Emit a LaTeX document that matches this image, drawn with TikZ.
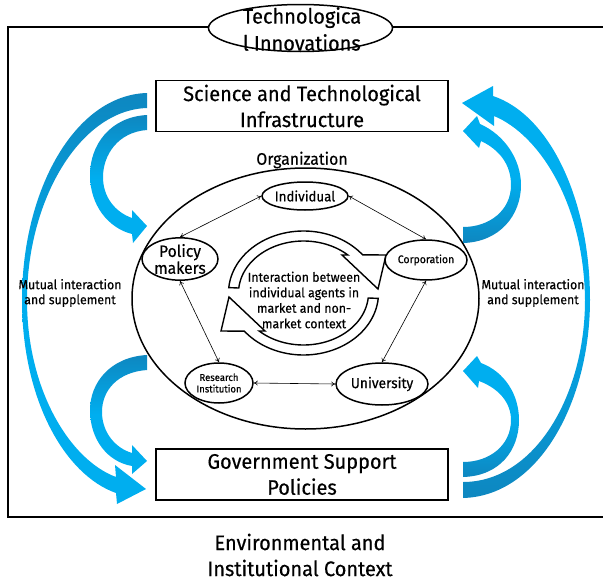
\documentclass[tikz,border=0pt]{standalone}
\usepackage{fontspec}
\setmainfont{Fira Sans}[FakeStretch=0.95,FakeBold=0.4]
\usetikzlibrary{shapes.geometric,arrows.meta}
\definecolor{blight}{RGB}{0,174,239}
\definecolor{bdark}{RGB}{14,135,192}
\newcommand{\fs}[2]{\fontsize{#1}{#2}\selectfont}

\begin{document}
\begin{tikzpicture}[x=1pt,y=-1pt,
  agent/.style={ellipse,draw,line width=1.5pt,inner sep=0pt,fill=white,align=center},
  box/.style={draw,line width=1.5pt,minimum width=292pt,minimum height=51pt,align=center,inner sep=0pt,font=\fs{21}{26}},
  link/.style={<->,>={To[length=4pt,width=5pt]},line width=0.6pt},
  flowdown/.style={top color=bdark,bottom color=blight,middle color=blight},
  flowup/.style={top color=blight,bottom color=bdark,middle color=blight},
  cyc/.style={draw,fill=white,line width=1.4pt,line join=miter},
]
\useasboundingbox (0,0) rectangle (603,581);

% environment frame (open on the right)
\draw[line width=1.5pt] (604,27) -- (8,27) -- (8,517) -- (604,517);

% top label
\node[ellipse,draw,line width=1.5pt,fill=white,minimum width=184pt,minimum height=47pt,inner sep=0pt] (tech) at (300.5,28) {};
\node[align=left,inner sep=0pt,font=\fs{21}{27}] (techtxt) at (302,29) {Technologica\\l Innovations};

% infrastructure and policy boxes
\node[box] (sci) at (302,106) {Science and Technological\\Infrastructure};
\node[box] (gov) at (302,474.5) {Government Support\\Policies};

% organization
\node[font=\fs{16.7}{18}] (orglbl) at (302,160) {Organization};
\node[ellipse,draw,line width=1.5pt,minimum width=347pt,minimum height=261pt,inner sep=0pt] (org) at (305.5,298.5) {};

% circular interaction arrows
\draw[cyc] plot[domain=185:322,samples=50] ({303.5+75*cos(\x)},{293+62*sin(\x)})
  -- (386,255) -- (378,289) -- (342,255)
  -- plot[domain=313:185.5,samples=50] ({303.5+65*cos(\x)},{293+52*sin(\x)}) -- cycle;
\draw[cyc] plot[domain=5:142,samples=50] ({303.5+75*cos(\x)},{293+62*sin(\x)})
  -- (221,331) -- (229,297) -- (265,331)
  -- plot[domain=133:5.5,samples=50] ({303.5+65*cos(\x)},{293+52*sin(\x)}) -- cycle;
\node[align=center,inner sep=0pt,font=\fs{13}{15.5}] (inter) at (304,300)
  {Interaction between\\individual agents in\\market and non-\\market context};

% agents
\node[agent,minimum width=86pt,minimum height=28pt,font=\fs{14}{16}] (ind) at (305,196) {Individual};
\node[agent,minimum width=76pt,minimum height=35pt,font=\fs{16.5}{15.5}] (pm) at (180,259) {Policy\\makers};
\node[agent,minimum width=82pt,minimum height=40pt,font=\fs{11}{13}] (corp) at (426,260) {Corporation};
\node[agent,minimum width=68pt,minimum height=40pt,font=\fs{10}{11.5}] (ri) at (219,383) {Research\\Institution};
\node[agent,minimum width=92pt,minimum height=42pt,font=\fs{14.5}{17}] (uni) at (382,384) {University};

\draw[link] (pm.north) -- (ind.west);
\draw[link] (ind.east) -- (corp.north);
\draw[link] (pm.south) -- (ri.north);
\draw[link] (corp.south) -- (uni.north);
\draw[link] (ri.east) -- (uni.west);

% left feedback arrows
\path[flowdown] (147,93) .. controls (75,95) and (22,190) .. (22,300)
  .. controls (22,400) and (65,475) .. (116,493) -- (117,504) -- (146,489) -- (115,465) -- (116,477)
  .. controls (70,460) and (27,390) .. (27,300) .. controls (27,200) and (80,110) .. (147,108) -- cycle;
\path[flowdown] (147,115) .. controls (110,117) and (90,145) .. (90,175)
  .. controls (90,205) and (108,228) .. (132,234) -- (133,243) -- (147,226) -- (132,210) -- (132,218)
  .. controls (115,212) and (103,197) .. (103,177) .. controls (103,155) and (118,132) .. (147,130) -- cycle;
\path[flowdown] (147,355) .. controls (110,357) and (90,383) .. (90,410)
  .. controls (90,440) and (108,462) .. (132,466) -- (132,474) -- (147,461) -- (132,445) -- (132,453)
  .. controls (115,448) and (102,432) .. (102,412) .. controls (102,390) and (118,372) .. (147,370) -- cycle;

% right feedback arrows
\path[flowup] (463,498) .. controls (540,496) and (590,400) .. (590,300)
  .. controls (590,200) and (550,115) .. (493,96) -- (493,86) -- (462,103) -- (494,126) -- (494,116)
  .. controls (540,135) and (584,205) .. (585,300) .. controls (585,395) and (535,482) .. (463,482) -- cycle;
\path[flowup] (463,243) .. controls (500,242) and (521,215) .. (521,185)
  .. controls (521,160) and (505,135) .. (480,124) -- (477,116) -- (463,131) -- (479,148) -- (481,141)
  .. controls (500,150) and (511,165) .. (511,185) .. controls (511,210) and (490,227) .. (463,227) -- cycle;
\path[flowup] (463,477) .. controls (500,476) and (519,450) .. (519,420)
  .. controls (519,395) and (505,372) .. (481,363) -- (477,356) -- (463,371) -- (478,388) -- (479,381)
  .. controls (498,388) and (511,402) .. (511,420) .. controls (511,445) and (490,462) .. (463,462) -- cycle;

% side labels
\node[align=center,inner sep=0pt,font=\fs{13}{15}] (mutl) at (70,293) {Mutual interaction\\and supplement};
\node[align=center,inner sep=0pt,font=\fs{13}{15}] (mutr) at (533,293) {Mutual interaction\\and supplement};

% context caption
\node[align=center,inner sep=0pt,font=\fs{21}{26}] (ctx) at (300,555) {Environmental and\\Institutional Context};
\end{tikzpicture}
\end{document}
